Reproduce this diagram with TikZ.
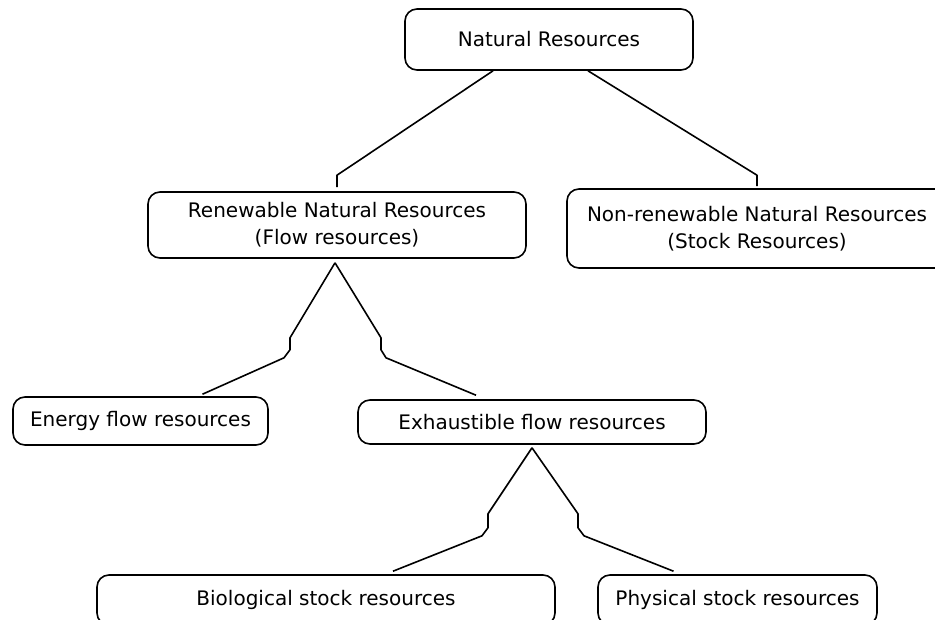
\documentclass[tikz,border=0pt]{standalone}
\usepackage{fontspec}
\setmainfont{DejaVu Sans}
\usetikzlibrary{positioning,calc}

\begin{document}
\begin{tikzpicture}[x=1pt, y=-1pt]
\tikzstyle{block} = [rectangle, draw, line width=1.6pt, rounded corners=12pt, align=center, inner sep=0pt, font=\fontsize{20}{27}\selectfont]
\tikzstyle{line} = [draw, line width=1.6pt, line join=round]

\useasboundingbox (0,0) rectangle (935,619);

% Resource Blocks

\node [block, minimum width=288pt, minimum height=61pt] (natural) at (549,39.5) {Natural Resources};

\node [block, minimum width=378pt, minimum height=66pt] (renewable) at (337,225) {Renewable Natural Resources\\(Flow resources)};

\node [block, minimum width=380pt, minimum height=79pt] (nonRenewable) at (757,228.5) {Non-renewable Natural Resources\\(Stock Resources)};

\node [block, minimum width=255pt, minimum height=48pt] (energyFlow) at (140.5,421) {Energy flow resources};

\node [block, minimum width=348pt, minimum height=44pt] (exhaustibleFlow) at (532,422) {Exhaustible flow resources};

\node [block, minimum width=458pt, minimum height=50pt] (biologicalStock) at (326,600) {Biological stock resources};

\node [block, minimum width=279pt, minimum height=50pt] (physicalStock) at (737.5,600) {Physical stock resources};

% Connections
\draw [line] ($(natural.south)+(-56,0)$) -- ($(renewable.north)+(0,-16)$) -- ($(renewable.north)+(0,-4)$);
\draw [line] ($(natural.south)+(39,0)$) -- ($(nonRenewable.north)+(0,-13)$) -- ($(nonRenewable.north)+(0,-2)$);

\draw [line] ($(renewable.south)+(-2,4)$) -- ++(-45,75) -- ++(0,12) -- ++(-6,8) -- ($(energyFlow.north)+(62,-2)$);
\draw [line] ($(renewable.south)+(-2,4)$) -- ++(46,75) -- ++(0,12) -- ++(5,8) -- ($(exhaustibleFlow.north)+(-56,-4)$);

\draw [line] ($(exhaustibleFlow.south)+(0,3)$) -- ++(-44,66) -- ++(0,14) -- ++(-6,8) -- ($(biologicalStock.north)+(67,-3)$);
\draw [line] ($(exhaustibleFlow.south)+(0,3)$) -- ++(46,66) -- ++(0,14) -- ++(6,8) -- ($(physicalStock.north)+(-64,-3)$);

\end{tikzpicture}
\end{document}
